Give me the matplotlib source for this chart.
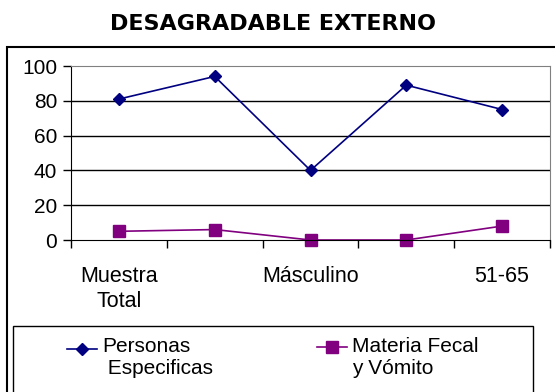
import matplotlib
matplotlib.use('Agg')
import matplotlib.pyplot as plt
from matplotlib.patches import Rectangle
from matplotlib.lines import Line2D

plt.rcParams['font.family'] = ['Liberation Sans', 'DejaVu Sans']

# Datos del grafico
categories = ['Muestra\nTotal', '', 'Másculino', '', '51-65']
personas = [81, 94, 40, 89, 75]
materia = [5, 6, 0, 0, 8]
series_names = ['Personas\n Especificas', 'Materia Fecal\ny Vómito']
y_ticks = [0, 20, 40, 60, 80, 100]

W, H = 555, 392
fig = plt.figure(figsize=(W / 100, H / 100), dpi=100)

# marco exterior y marco de la leyenda
fig.patches.append(Rectangle((7 / W, -0.1), 1.0, 1 - 47 / H + 0.1, transform=fig.transFigure,
                             fill=False, edgecolor='black', linewidth=1.5))
fig.patches.append(Rectangle((13 / W, -0.1), (533 - 13) / W, 1 - 326 / H + 0.1,
                             transform=fig.transFigure, fill=False, edgecolor='black', linewidth=1))

fig.text(273 / W, 1 - 24 / H, 'DESAGRADABLE EXTERNO', ha='center', va='center',
         fontsize=16, fontweight='bold', family='DejaVu Sans')

ax = fig.add_axes([71 / W, 1 - 240 / H, (550 - 71) / W, (240 - 66) / H])
x = list(range(len(categories)))
l1, = ax.plot(x, personas, color='#000080', marker='D', markersize=6, linewidth=1.2)
l2, = ax.plot(x, materia, color='#800080', marker='s', markersize=8, linewidth=1.2)
for line in (l1, l2):
    line.set_clip_on(False)

ax.set_xlim(-0.5, len(categories) - 0.5)
ax.set_ylim(0, 100)
ax.set_yticks(y_ticks)
ax.set_xticks(x)
ax.set_xticklabels(categories, fontsize=15.5, linespacing=1.25, va='top')
ax.set_xticks([i - 0.5 for i in range(len(categories) + 1)], minor=True)
ax.tick_params(axis='x', which='major', length=0, pad=19)
ax.tick_params(axis='x', which='minor', length=6, direction='out', width=1)
ax.tick_params(axis='y', labelsize=15, length=6, direction='out', pad=4, width=1)

for v in y_ticks[1:-1]:
    ax.axhline(v, color='black', linewidth=1, zorder=0)
ax.spines['top'].set_color('#808080')
ax.spines['right'].set_color('#808080')
ax.spines['left'].set_color('black')
ax.spines['bottom'].set_color('black')

# leyenda: muestra de linea y texto de cada serie
legend_items = [(l1, 67, 349, 102), (l2, 317, 347, 352)]
for (line, x0, y0, tx), name in zip(legend_items, series_names):
    fy = 1 - y0 / H
    fig.add_artist(Line2D([x0 / W, (x0 + 30) / W], [fy, fy], transform=fig.transFigure,
                          color=line.get_color(), linewidth=1.2))
    fig.add_artist(Line2D([(x0 + 15) / W], [fy], transform=fig.transFigure,
                          color=line.get_color(), marker=line.get_marker(),
                          markersize=line.get_markersize()))
    fig.text(tx / W, 1 - 337 / H, name, ha='left', va='top', fontsize=15,
             linespacing=1.2)

fig.savefig('out.png', dpi=100)
